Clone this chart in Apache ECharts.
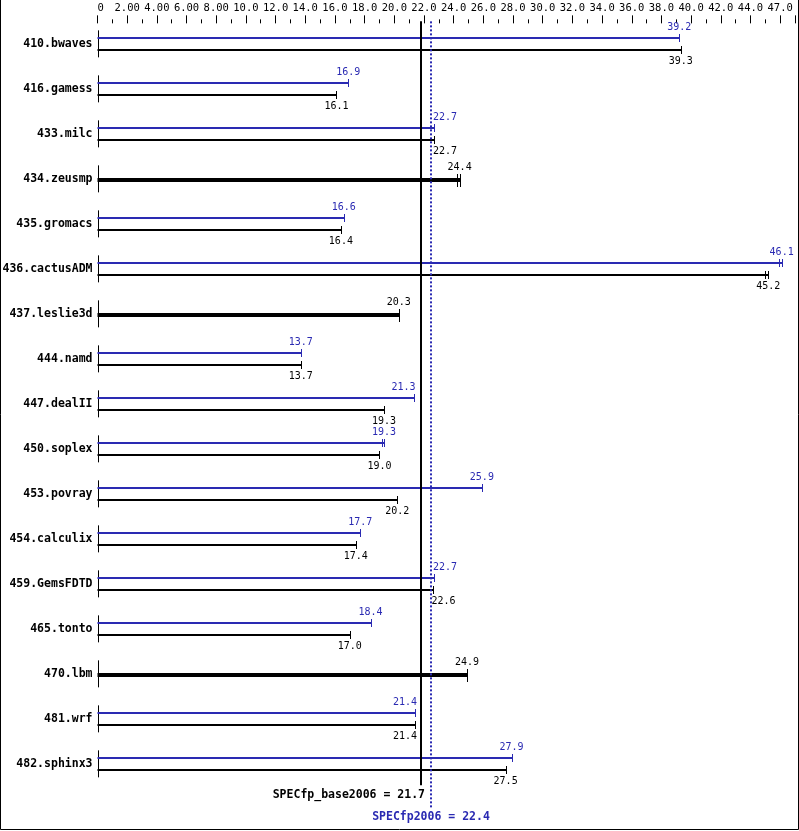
<!DOCTYPE html>
<html>
<head>
<meta charset="utf-8">
<script src="https://cdn.jsdelivr.net/npm/echarts@6/dist/echarts.min.js"></script>
<style>
html,body{margin:0;padding:0;background:#fff;}
#chart{width:799px;height:831px;}
</style>
</head>
<body>
<div id="chart"></div>
<script>
const categories = ['410.bwaves','416.gamess','433.milc','434.zeusmp','435.gromacs','436.cactusADM','437.leslie3d','444.namd','447.dealII','450.soplex','453.povray','454.calculix','459.GemsFDTD','465.tonto','470.lbm','481.wrf','482.sphinx3'];
const peakValues = [39.2, 16.9, 22.7, null, 16.6, 46.1, null, 13.7, 21.3, 19.3, 25.9, 17.7, 22.7, 18.4, null, 21.4, 27.9];
const baseValues = [39.3, 16.1, 22.7, 24.4, 16.4, 45.2, 20.3, 13.7, 19.3, 19.0, 20.2, 17.4, 22.6, 17.0, 24.9, 21.4, 27.5];
const peakAltTick = [null, null, null, null, null, 45.9, null, null, null, 19.2, null, null, null, null, null, null, null];
const baseAltTick = [null, null, null, 24.2, null, 45.0, null, null, null, null, null, null, null, null, null, null, null];
const baseScore = 21.7;
const peakScore = 22.4;
const baseScoreLabel = 'SPECfp_base2006 = 21.7';
const peakScoreLabel = 'SPECfp2006 = 22.4';
const tickValues = [0,2,4,6,8,10,12,14,16,18,20,22,24,26,28,30,32,34,36,38,40,42,44,46];
const tickLabels = ['0','2.00','4.00','6.00','8.00','10.0','12.0','14.0','16.0','18.0','20.0','22.0','24.0','26.0','28.0','30.0','32.0','34.0','36.0','38.0','40.0','42.0','44.0','47.0'];

const BLUE = '#2a2ab2';
const BLACK = '#000000';
const MONO = '"DejaVu Sans Mono", "Liberation Mono", monospace';
const labelMap = {};
tickValues.forEach((v, k) => { labelMap[v] = tickLabels[k]; });

const chart = echarts.init(document.getElementById('chart'), null, {renderer: 'canvas'});

function labelPlacement(xe, api) {
  const xb = api.coord([baseScore, 0])[0];
  const xp = api.coord([peakScore, 0])[0];
  const half = 12;
  const lo = Math.min(xb, xp) - 2, hi = Math.max(xb, xp) + 2;
  if (xe + half > lo && xe - half < hi) {
    if (xe < lo + 1) return {x: xe + 2, align: 'right'};
    return {x: xe - 1.5, align: 'left'};
  }
  return {x: xe, align: 'center'};
}

function renderRow(params, api) {
  const i = api.value(0);
  const p0 = api.coord([0, i]);
  const x0 = p0[0], cy = p0[1];
  const children = [];
  const ax = Math.round(x0) + 0.5;
  children.push({type: 'line', shape: {x1: ax, y1: cy - 13.5, x2: ax, y2: cy + 13.5}, style: {stroke: BLACK, lineWidth: 1}});
  const valFont = '10px ' + MONO;
  function tick(v, y, h, color) {
    const x = Math.round(api.coord([v, i])[0]) + 0.5;
    children.push({type: 'line', shape: {x1: x, y1: y - h, x2: x, y2: y + h}, style: {stroke: color, lineWidth: 1}});
  }
  function bar(v, y, w, color) {
    const xe = api.coord([v, i])[0];
    children.push({type: 'line', shape: {x1: x0, y1: y, x2: Math.round(xe) + 0.5, y2: y}, style: {stroke: color, lineWidth: w}});
    return xe;
  }
  function label(v, xe, y, color) {
    const pl = labelPlacement(xe, api);
    children.push({type: 'text', style: {text: v.toFixed(1), x: pl.x, y: y, fill: color, font: valFont, align: pl.align, verticalAlign: 'middle'}});
  }
  const pv = peakValues[i], bv = baseValues[i];
  if (pv == null) {
    const y = Math.round(cy) + 1;
    const xe = bar(bv, y, 4, BLACK);
    tick(bv, y + 0.5, 6.5, BLACK);
    if (baseAltTick[i] != null) tick(baseAltTick[i], y + 0.5, 6.5, BLACK);
    label(bv, xe, cy - 11.5, BLACK);
  } else {
    const yb = Math.round(cy - 6);
    const yk = Math.round(cy + 6);
    const xp = bar(pv, yb, 2, BLUE);
    tick(pv, yb, 4, BLUE);
    if (peakAltTick[i] != null) tick(peakAltTick[i], yb, 4, BLUE);
    label(pv, xp, yb - 11, BLUE);
    const xk = bar(bv, yk, 2, BLACK);
    tick(bv, yk, 4, BLACK);
    if (baseAltTick[i] != null) tick(baseAltTick[i], yk, 4, BLACK);
    label(bv, xk, yk + 11, BLACK);
  }
  return {type: 'group', children: children};
}

function renderRefs(params, api) {
  const band = api.size([0, 1])[1];
  const yTop = api.coord([0, 0])[1] - band / 2;
  const yBot = api.coord([0, categories.length - 1])[1] + band / 2;
  const xb = api.coord([baseScore, 0])[0];
  const xp = api.coord([peakScore, 0])[0];
  const bx = Math.round(xb) + 1;
  const px = Math.round(xp) + 1;
  const boldFont = 'bold 11.5px ' + MONO;
  return {type: 'group', children: [
    {type: 'line', shape: {x1: bx, y1: yTop, x2: bx, y2: yBot - 1}, style: {stroke: BLACK, lineWidth: 2}},
    {type: 'line', shape: {x1: px, y1: yTop, x2: px, y2: yBot + 22}, style: {stroke: BLUE, lineWidth: 2, lineDash: [2, 2]}},
    {type: 'text', style: {text: baseScoreLabel, x: bx + 4, y: yBot + 9, fill: BLACK, font: boldFont, align: 'right', verticalAlign: 'middle'}},
    {type: 'text', style: {text: peakScoreLabel, x: px, y: yBot + 31, fill: BLUE, font: boldFont, align: 'center', verticalAlign: 'middle'}}
  ]};
}

const option = {
  backgroundColor: '#ffffff',
  animation: false,
  grid: {left: 97.5, right: 4, top: 21.35, bottom: 44.65, containLabel: false, outerBoundsMode: 'none'},
  xAxis: {
    type: 'value', position: 'top', min: 0, max: 47, interval: 2, offset: -2,
    axisLine: {show: false},
    axisTick: {show: true, length: 8, lineStyle: {color: BLACK, width: 1}},
    minorTick: {show: true, splitNumber: 2, length: 4, lineStyle: {color: BLACK, width: 1}},
    splitLine: {show: false}, minorSplitLine: {show: false},
    axisLabel: {
      show: true, margin: 10, interval: 0, showMaxLabel: true, hideOverlap: false,
      alignMinLabel: 'left',
      color: BLACK, fontFamily: MONO, fontSize: 10.5,
      formatter: function (v) { return labelMap[v] !== undefined ? labelMap[v] : ''; }
    }
  },
  yAxis: {
    type: 'category', data: categories, inverse: true,
    axisLine: {show: false}, axisTick: {show: false}, splitLine: {show: false},
    axisLabel: {margin: 5, color: BLACK, fontFamily: MONO, fontSize: 11.5, fontWeight: 'bold'}
  },
  series: [
    {
      type: 'custom', renderItem: renderRow, clip: false, z: 2,
      encode: {x: 1, y: 0},
      data: categories.map((c, i) => [i, baseValues[i]])
    },
    {
      type: 'custom', renderItem: renderRefs, clip: false, z: 5,
      encode: {x: 0},
      data: [[baseScore, peakScore]]
    }
  ],
  graphic: [
    {type: 'polyline', silent: true, z: 100, shape: {points: [[0.5, 0], [0.5, 829.5], [798.5, 829.5], [798.5, 0]]}, style: {stroke: BLACK, lineWidth: 1, fill: null}}
  ]
};
chart.setOption(option);
</script>
</body>
</html>
